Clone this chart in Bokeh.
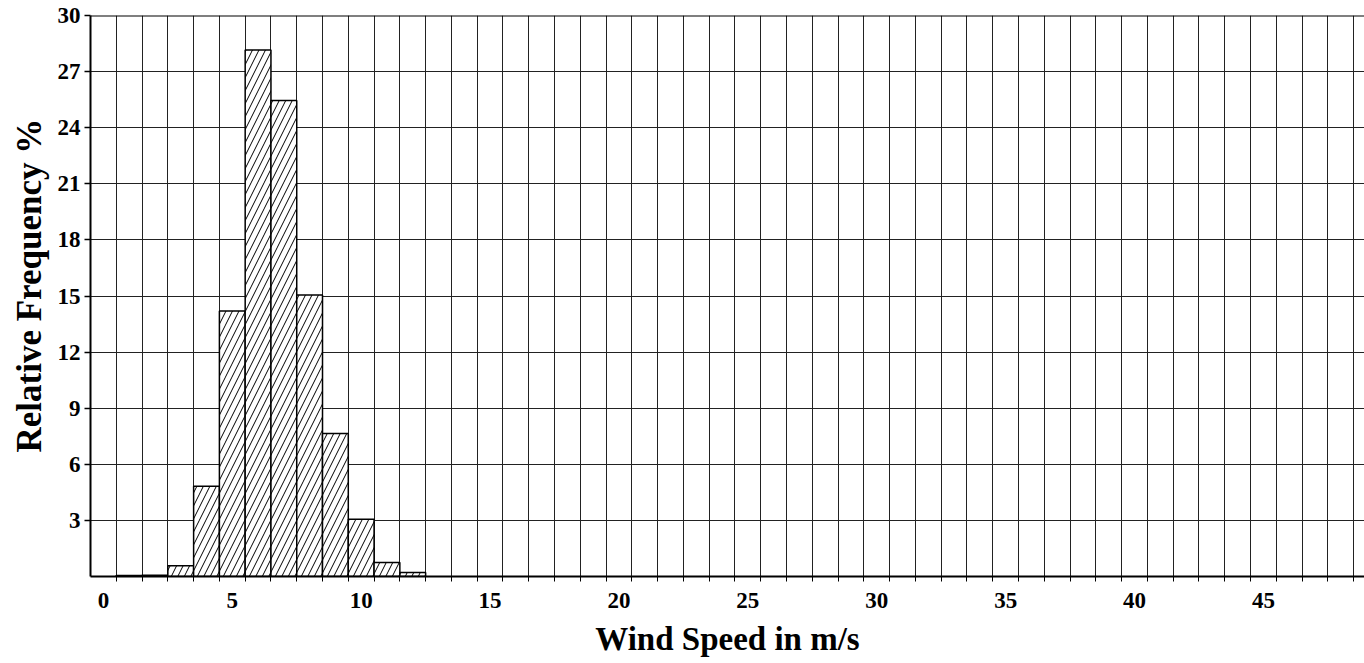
from bokeh.plotting import figure
from bokeh.models import FixedTicker, Span, Range1d, Title
from bokeh.embed import file_html
from bokeh.resources import INLINE

# Data
wind_speed = [1, 2, 3, 4, 5, 6, 7, 8, 9, 10, 11, 12]
rel_freq = [0.06, 0.07, 0.57, 4.82, 14.2, 28.15, 25.46, 15.06, 7.65, 3.06, 0.75, 0.21]
x_tick_values = [0, 5, 10, 15, 20, 25, 30, 35, 40, 45]
y_tick_values = [3, 6, 9, 12, 15, 18, 21, 24, 27, 30]
x_bin_edges = [i + 0.5 for i in range(0, 49)]

FONT = "Liberation Serif"

p = figure(width=1364, height=663, output_backend="svg", toolbar_location=None,
           x_range=Range1d(-0.5, 48.92), y_range=Range1d(0, 30),
           min_border_left=90, min_border_right=0, min_border_top=15, min_border_bottom=87)
p.outline_line_color = None
p.background_fill_color = "white"
p.border_fill_color = "white"

p.vbar(x=wind_speed, top=rel_freq, width=1.0, fill_color="white",
       line_color="black", line_width=1.5,
       hatch_pattern="/", hatch_color="black", hatch_scale=13, hatch_weight=1)

# x axis
p.xaxis.ticker = FixedTicker(ticks=x_tick_values, minor_ticks=x_bin_edges)
p.xaxis.major_tick_line_color = None
p.xaxis.major_tick_out = 0
p.xaxis.major_tick_in = 0
p.xaxis.minor_tick_out = 5
p.xaxis.minor_tick_in = 0
p.xaxis.minor_tick_line_color = "black"
p.xaxis.axis_line_width = 2
p.xaxis.axis_line_color = "black"
p.xaxis.major_label_standoff = 11
p.xaxis.axis_label = "Wind Speed in m/s"
p.xaxis.axis_label_standoff = 10
p.xaxis.major_label_text_font = FONT
p.xaxis.major_label_text_font_style = "bold"
p.xaxis.major_label_text_font_size = "23px"
p.xaxis.major_label_text_color = "black"
p.xaxis.axis_label_text_font = FONT
p.xaxis.axis_label_text_font_style = "bold"
p.xaxis.axis_label_text_font_size = "33px"
p.xaxis.axis_label_text_color = "black"

# y axis
p.yaxis.ticker = FixedTicker(ticks=y_tick_values)
p.yaxis.minor_tick_line_color = None
p.yaxis.major_tick_out = 6
p.yaxis.major_tick_in = 0
p.yaxis.major_tick_line_width = 1.5
p.yaxis.axis_line_width = 2
p.yaxis.axis_line_color = "black"
p.yaxis.major_label_standoff = 4
p.yaxis.major_label_text_font = FONT
p.yaxis.major_label_text_font_style = "bold"
p.yaxis.major_label_text_font_size = "23px"
p.yaxis.major_label_text_color = "black"

y_title = Title(text="Relative Frequency %", align="left", offset=124,
                text_font=FONT, text_font_style="bold", text_font_size="35px",
                text_color="black", standoff=12)
p.add_layout(y_title, "left")

# grids
p.xgrid.grid_line_color = None
p.xgrid.ticker = FixedTicker(ticks=x_tick_values, minor_ticks=x_bin_edges)
p.xgrid.minor_grid_line_color = "#222222"
p.xgrid.minor_grid_line_width = 1
p.xgrid.minor_grid_line_alpha = 1.0
p.ygrid.ticker = FixedTicker(ticks=y_tick_values)
p.ygrid.grid_line_color = "#222222"
p.ygrid.grid_line_width = 1
p.ygrid.grid_line_alpha = 1.0
p.xgrid.level = "underlay"
p.ygrid.level = "underlay"

top_border = Span(location=30, dimension="width", line_color="black", line_width=2)
p.add_layout(top_border)

open("out.html", "w").write(file_html(p, INLINE))
